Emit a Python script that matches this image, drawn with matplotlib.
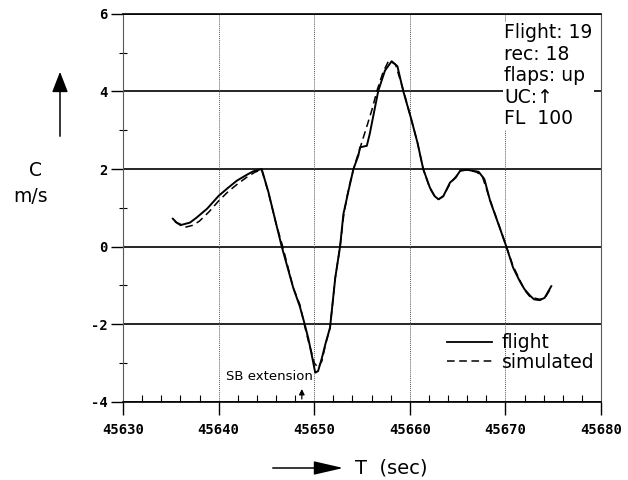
import numpy as np
from matplotlib import pyplot as plt
from matplotlib.lines import Line2D
from matplotlib.patches import FancyArrowPatch

# flight record
t_flight = [45635.2, 45635.6, 45636.1, 45637.0, 45637.7, 45638.8, 45640.0, 45641.0, 45641.9, 45643.0,
            45643.6, 45644.5, 45645.2, 45646.0, 45646.6, 45647.8, 45648.5, 45649.0, 45649.4, 45649.8,
            45650.1, 45650.4, 45650.8, 45651.2, 45651.65, 45652.2, 45652.7, 45653.05, 45653.6, 45654.1,
            45654.6, 45654.8, 45655.5, 45655.8, 45656.7, 45657.4, 45658.1, 45658.7, 45659.3, 45660.1,
            45660.8, 45661.4, 45662.1, 45662.6, 45663.0, 45663.5, 45664.2, 45664.8, 45665.3, 45666.0,
            45667.2, 45667.8, 45668.4, 45669.4, 45670.1, 45670.8, 45671.5, 45672.0, 45672.6, 45673.0,
            45673.6, 45674.1, 45674.8]
c_flight = [0.72, 0.62, 0.56, 0.62, 0.75, 0.98, 1.31, 1.52, 1.70, 1.86,
            1.94, 2.0, 1.41, 0.6, 0.0, -1.06, -1.55, -2.0, -2.39, -2.87,
            -3.25, -3.21, -2.87, -2.48, -2.09, -0.8, 0.0, 0.84, 1.46, 2.0,
            2.34, 2.56, 2.6, 2.9, 4.02, 4.54, 4.78, 4.65, 4.02, 3.33,
            2.68, 2.0, 1.52, 1.3, 1.22, 1.3, 1.65, 1.78, 1.97, 1.98,
            1.93, 1.74, 1.18, 0.49, 0.0, -0.54, -0.89, -1.1, -1.27, -1.36,
            -1.38, -1.32, -1.02]

# simulated response
t_sim = [45635.4, 45636.0, 45636.5, 45637.3, 45638.0, 45639.0, 45640.0, 45641.0, 45642.0, 45643.0,
         45643.8, 45644.5, 45645.2, 45646.0, 45646.7, 45647.8, 45648.5, 45649.0, 45649.4, 45649.8,
         45650.0, 45650.4, 45650.8, 45651.2, 45651.65, 45652.2, 45652.7, 45653.1, 45653.6, 45654.1,
         45654.8, 45655.5, 45656.0, 45656.6, 45657.2, 45657.8, 45658.5, 45659.3, 45660.1, 45660.8,
         45661.4, 45662.1, 45662.6, 45663.0, 45663.5, 45664.2, 45664.8, 45665.3, 45666.0, 45667.0,
         45667.6, 45668.4, 45669.4, 45670.1, 45670.8, 45671.5, 45672.0, 45672.6, 45673.6, 45674.2,
         45674.8]
c_sim = [0.65, 0.55, 0.5, 0.55, 0.66, 0.9, 1.18, 1.42, 1.62, 1.8,
         1.92, 1.98, 1.4, 0.6, 0.0, -1.06, -1.5, -2.05, -2.45, -2.8,
         -3.0, -3.12, -2.95, -2.5, -2.1, -0.8, 0.0, 0.85, 1.5, 2.0,
         2.55, 3.1, 3.5, 4.05, 4.5, 4.8, 4.7, 4.05, 3.33, 2.68,
         2.0, 1.5, 1.3, 1.22, 1.3, 1.62, 1.8, 1.95, 1.98, 1.92,
         1.8, 1.2, 0.5, 0.0, -0.5, -0.86, -1.12, -1.3, -1.36, -1.3,
         -1.05]

xticks = [45630, 45640, 45650, 45660, 45670, 45680]
yticks = [-4, -2, 0, 2, 4, 6]
info = "Flight: 19\nrec: 18\nflaps: up\nUC:\u2191\nFL  100"
sb_time = 45648.7

fh = plt.figure(figsize=(6.28, 4.80), dpi=100)
ah = fh.add_axes([0.196, 0.163, 0.761, 0.808])

ah.plot(t_flight, c_flight, color='black', lw=1.4, zorder=4)
ah.plot(t_sim, c_sim, color='black', lw=1.1, ls=(0, (5, 3)), zorder=3)

ah.set_xlim(45630, 45680)
ah.set_ylim(-4, 6)
ah.set_xticks(xticks)
ah.set_yticks(yticks)
ah.set_xticks(np.arange(45630, 45681, 2), minor=True)
ah.set_yticks(np.arange(-3, 6, 2), minor=True)
tickfont = dict(family='DejaVu Sans Mono', weight='bold', size=10)
ah.set_xticklabels([str(v) for v in xticks], fontdict=tickfont)
ah.set_yticklabels([str(v) for v in yticks], fontdict=tickfont)
ah.tick_params(which='major', direction='out', length=9, width=1.0)
ah.tick_params(axis='y', which='major', pad=2)
ah.tick_params(axis='x', which='major', pad=6)
ah.tick_params(axis='x', which='minor', direction='in', length=5, width=0.8)
ah.tick_params(axis='y', which='minor', direction='inout', length=6, width=0.8)

for v in yticks:
    ah.axhline(v, color='black', lw=1.2, zorder=1)
for v in xticks[1:]:
    ah.axvline(v, color='0.35', lw=0.7, ls=(0, (1, 1)), zorder=1)
for side in ['left', 'right']:
    ah.spines[side].set_color('0.35')
    ah.spines[side].set_linewidth(0.8)
    ah.spines[side].set_linestyle((0, (2, 1)))
for side in ['top', 'bottom']:
    ah.spines[side].set_linewidth(1.2)

ah.text(0.797, 0.976, info, transform=ah.transAxes, va='top', ha='left',
        fontsize=13.5, linespacing=1.17, zorder=5,
        bbox=dict(facecolor='white', edgecolor='none', pad=1))

# SB extension marker
ah.annotate('', xy=(sb_time, -3.6), xytext=(sb_time, -4),
            arrowprops=dict(arrowstyle='-|>', color='black', lw=0.9, mutation_scale=8))
ah.text(45649.85, -3.35, 'SB extension', ha='right', va='center', fontsize=9.5)

handles = [Line2D([], [], color='black', lw=1.3),
           Line2D([], [], color='black', lw=1.1, ls=(0, (5, 3)))]
leg = ah.legend(handles, ['flight', 'simulated'], loc='upper left', bbox_to_anchor=(0.678, 0.177),
                frameon=False, fontsize=13.5, handlelength=2.4, handletextpad=0.5,
                labelspacing=0.05, borderaxespad=0, borderpad=0)

# axis labels with arrows
fh.text(35 / 628, 1 - 170 / 480, 'C', ha='center', va='center', fontsize=13.5)
fh.text(31 / 628, 1 - 196 / 480, 'm/s', ha='center', va='center', fontsize=13.5)
fh.add_artist(FancyArrowPatch(
    (60 / 628, 1 - 139 / 480), (60 / 628, 1 - 69 / 480), transform=fh.transFigure,
    arrowstyle='-|>,head_length=0.9,head_width=0.35', mutation_scale=14, color='black', lw=1.1))
fh.add_artist(FancyArrowPatch(
    (270 / 628, 1 - 468 / 480), (346 / 628, 1 - 468 / 480), transform=fh.transFigure,
    arrowstyle='-|>,head_length=1.3,head_width=0.3', mutation_scale=14, color='black', lw=1.1))
fh.text(355 / 628, 1 - 468 / 480, 'T  (sec)', ha='left', va='center', fontsize=14)

plt.savefig('out.png')
